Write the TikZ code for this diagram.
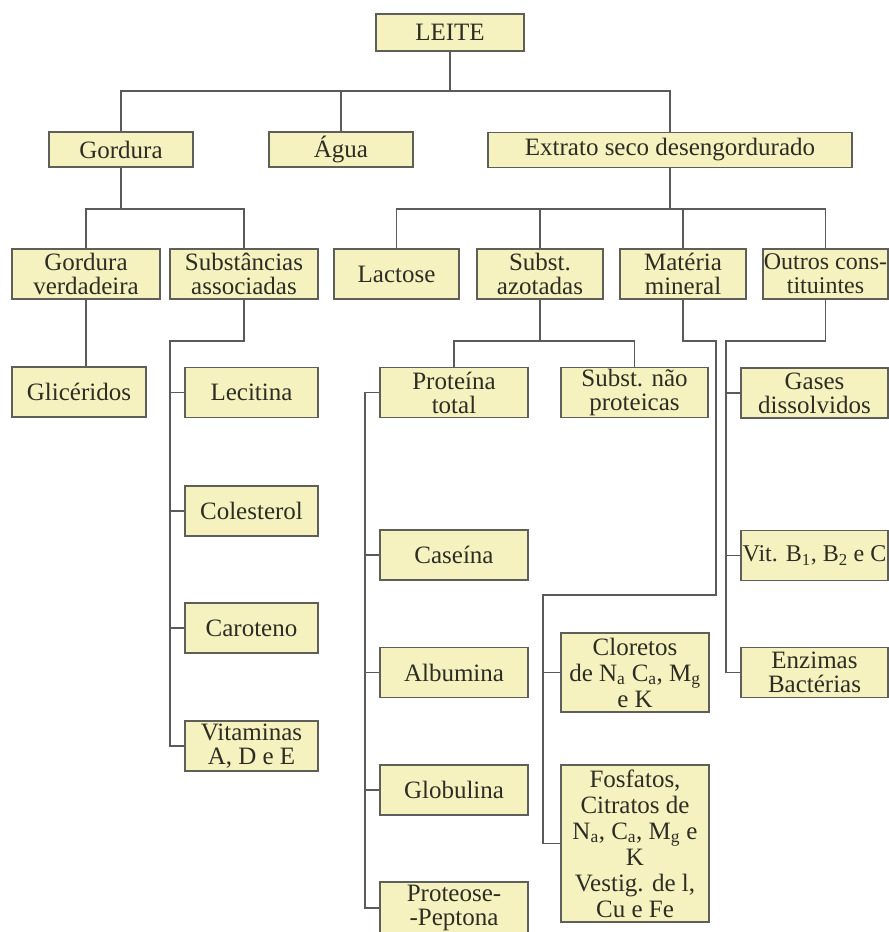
\documentclass[tikz,border=0pt]{standalone}
\usepackage{fontspec}
\setmainfont{Liberation Serif}
\definecolor{boxfill}{RGB}{246,242,192}
\definecolor{boxline}{RGB}{95,95,90}
\definecolor{linecol}{RGB}{90,90,90}
\definecolor{txtcol}{RGB}{45,45,35}
\begin{document}
\begin{tikzpicture}[x=1pt,y=-1pt,
  box/.style={draw=boxline, line width=1.2pt, fill=boxfill, rectangle, inner sep=0pt,
    align=center, text=txtcol, font=\fontsize{25}{24}\selectfont, minimum height=50pt},
  tight/.style={font=\fontsize{24}{24}\selectfont},
  loose/.style={font=\fontsize{25}{26}\selectfont},
  conn/.style={draw=linecol, line width=1.1pt}]
\useasboundingbox (0,0) rectangle (889,932);
% level 1
\node[box, minimum width=148pt, minimum height=37pt] (leite) at (450,32.5) {LEITE};
% level 2
\node[box, minimum width=144pt, minimum height=35pt] (gordura) at (121,149.5) {Gordura};
\node[box, minimum width=144pt, minimum height=35pt] (agua) at (341,149.5) {Água};
\node[box, minimum width=364pt, minimum height=35pt] (extrato) at (670,150) {Extrato seco desengordurado};
% level 3
\node[box, minimum width=148pt] (gv) at (86,274) {Gordura\\verdadeira};
\node[box, minimum width=148pt] (sa) at (244,274) {Substâncias\\associadas};
\node[box, minimum width=125pt] (lactose) at (396.5,274) {Lactose};
\node[box, minimum width=126pt] (azot) at (540,274) {Subst.\\azotadas};
\node[box, minimum width=126pt] (mat) at (683,274) {Matéria\\mineral};
\node[box, tight, minimum width=125pt] (outros) at (825.5,274) {Outros cons-\\tituintes};
% level 4
\node[box, minimum width=134pt] (glic) at (79,392) {Glicéridos};
\node[box, minimum width=133pt] (lecitina) at (251.5,392.5) {Lecitina};
\node[box, minimum width=133pt] (colesterol) at (251.5,511) {Colesterol};
\node[box, minimum width=133pt] (caroteno) at (251.5,628) {Caroteno};
\node[box, minimum width=133pt] (vitaminas) at (251.5,746) {Vitaminas\\A, D e E};
\node[box, minimum width=148pt] (proteina) at (454,392.5) {Proteína\\total};
\node[box, minimum width=147pt] (naoprot) at (634.5,392.5) {Subst. não\\proteicas};
\node[box, minimum width=148pt] (caseina) at (454,555) {Caseína};
\node[box, minimum width=148pt] (albumina) at (454,672.5) {Albumina};
\node[box, minimum width=148pt] (globulina) at (454,790) {Globulina};
\node[box, minimum width=148pt, minimum height=52pt] (proteose) at (454,908) {Proteose-\\-Peptona};
\node[box, loose, minimum width=148pt, minimum height=79pt] (cloretos) at (635,672.5)
  {Cloretos\\de N\textsubscript{a} C\textsubscript{a}, M\textsubscript{g}\\e K};
\node[box, loose, minimum width=148pt, minimum height=157pt] (fosfatos) at (635,843.5)
  {Fosfatos,\\Citratos de\\N\textsubscript{a}, C\textsubscript{a}, M\textsubscript{g} e\\K\\Vestig. de l,\\Cu e Fe};
\node[box, minimum width=147pt] (gases) at (814.5,393) {Gases\\dissolvidos};
\node[box, tight, minimum width=147pt] (vit) at (814.5,555.5) {Vit. B\textsubscript{1}, B\textsubscript{2} e C};
\node[box, minimum width=147pt] (enzimas) at (814.5,672.5) {Enzimas\\Bactérias};
% junction coordinates
\coordinate (j1) at (450,91);
\coordinate (j2) at (121,209);
\coordinate (j3) at (670,209);
\coordinate (s1) at (170,341);
\coordinate (j4) at (540,341);
\coordinate (p1) at (365,392.5);
\coordinate (m1) at (716,341);
\coordinate (m2) at (716,595);
\coordinate (m3) at (543,595);
\coordinate (o1) at (726,341);
% connectors
\draw[conn] (leite.south) -- (j1);
\draw[conn] (gordura.north) |- (j1) -| (extrato.north);
\draw[conn] (agua.north) -- (agua.north |- j1);
\draw[conn] (gordura.south) -- (j2);
\draw[conn] (gv.north) |- (j2) -| (sa.north);
\draw[conn] (extrato.south) -- (j3);
\draw[conn] (lactose.north) |- (j3) -| (outros.north);
\draw[conn] (azot.north) -- (azot.north |- j3);
\draw[conn] (mat.north) -- (mat.north |- j3);
\draw[conn] (gv.south) -- (gv.south |- glic.north);
\draw[conn] (sa.south) |- (s1) |- (vitaminas.west);
\draw[conn] (s1 |- lecitina.west) -- (lecitina.west);
\draw[conn] (s1 |- colesterol.west) -- (colesterol.west);
\draw[conn] (s1 |- caroteno.west) -- (caroteno.west);
\draw[conn] (azot.south) -- (j4);
\draw[conn] (proteina.north) |- (j4) -| (naoprot.north);
\draw[conn] (proteina.west) -- (p1) |- (proteose.west);
\draw[conn] (p1 |- caseina.west) -- (caseina.west);
\draw[conn] (p1 |- albumina.west) -- (albumina.west);
\draw[conn] (p1 |- globulina.west) -- (globulina.west);
\draw[conn] (mat.south) |- (m1) -- (m2) -- (m3) |- (fosfatos.west);
\draw[conn] (m3 |- cloretos.west) -- (cloretos.west);
\draw[conn] (outros.south) |- (o1) |- (enzimas.west);
\draw[conn] (o1 |- gases.west) -- (gases.west);
\draw[conn] (o1 |- vit.west) -- (vit.west);
\end{tikzpicture}
\end{document}
